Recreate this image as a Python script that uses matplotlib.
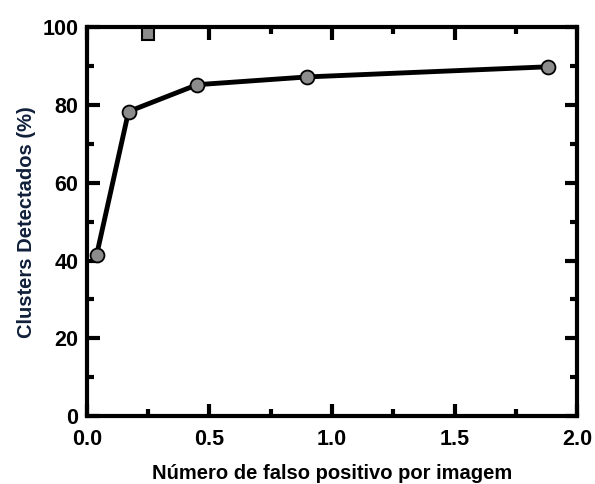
import matplotlib
matplotlib.use("Agg")
import matplotlib.pyplot as plt
from matplotlib.ticker import MultipleLocator, FormatStrFormatter

# detection rate vs false positives per image
fp_per_image = [0.04, 0.17, 0.45, 0.90, 1.88]
detected_pct = [41.5, 78.3, 85.2, 87.2, 89.8]

# stray square marker near the top axis
marker_x = [0.25]
marker_y = [98.3]

plt.rcParams['font.family'] = ['Liberation Sans', 'DejaVu Sans']
plt.rcParams['font.weight'] = 'bold'

fig = plt.figure(figsize=(5.95, 4.84), dpi=100)
ax = fig.add_axes([0.146, 0.140, 0.824, 0.804])

ax.plot(fp_per_image, detected_pct, color='black', lw=3.5, marker='o', ms=10,
        mfc='#8c8c8c', mec='black', mew=1.3, zorder=3)
ax.plot(marker_x, marker_y, ls='none', marker='s', ms=8, mfc='#8c8c8c',
        mec='black', mew=1.5, clip_on=False, zorder=4)

ax.set_xlim(0, 2.0)
ax.set_ylim(0, 100)
ax.xaxis.set_major_locator(MultipleLocator(0.5))
ax.xaxis.set_minor_locator(MultipleLocator(0.25))
ax.yaxis.set_major_locator(MultipleLocator(20))
ax.yaxis.set_minor_locator(MultipleLocator(10))
ax.xaxis.set_major_formatter(FormatStrFormatter('%.1f'))

ax.tick_params(which='both', direction='in', top=True, right=True, width=3,
               labelsize=15.5)
ax.tick_params(axis='y', pad=6)
ax.tick_params(axis='x', pad=9)
ax.tick_params(which='major', length=9)
ax.tick_params(which='minor', length=5)
for s in ax.spines.values():
    s.set_linewidth(3)

ax.set_xlabel('Número de falso positivo por imagem', fontsize=14.5,
              fontweight='bold', labelpad=10)
ax.set_ylabel('Clusters Detectados (%)', fontsize=14.5, fontweight='bold',
              color='#10203a', labelpad=5)

fig.savefig('out.png', dpi=100)
